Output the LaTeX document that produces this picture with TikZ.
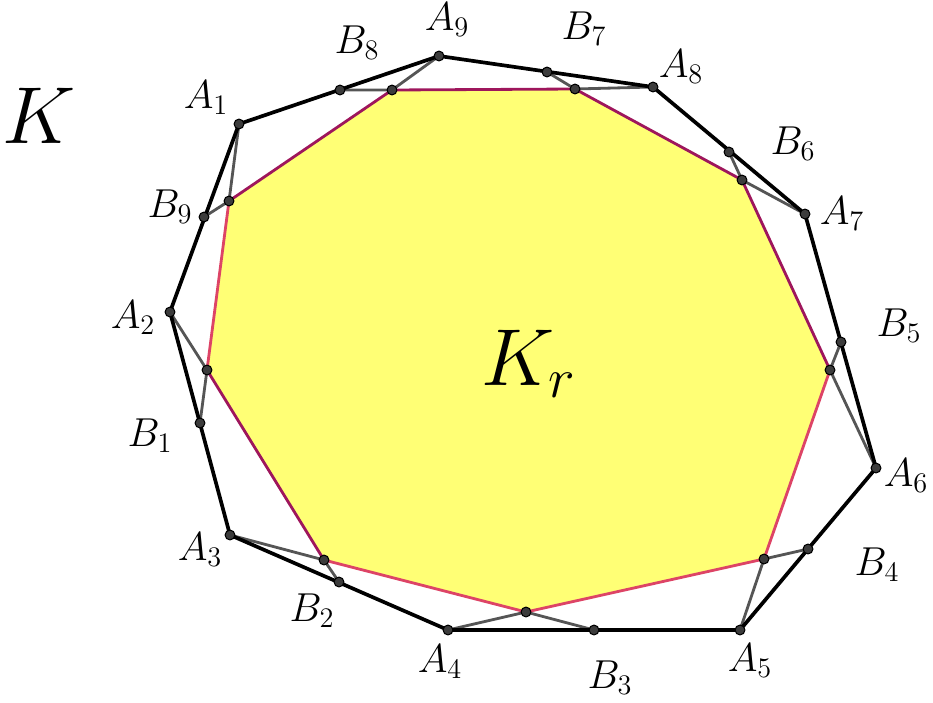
\RequirePackage{fix-cm}
\documentclass[tikz,border=0pt]{standalone}
\usepackage{amsmath}
\usetikzlibrary{positioning}
\definecolor{fillyellow}{RGB}{255,255,117}
\definecolor{edgemagenta}{RGB}{158,22,92}
\definecolor{edgepink}{RGB}{221,68,102}
\definecolor{dotgray}{RGB}{60,60,60}
\definecolor{cevgray}{RGB}{85,85,85}

\begin{document}
\begin{tikzpicture}[
  x=0.02cm, y=-0.02cm,
  outer/.style={draw=black,line width=2.1pt,line join=round},
  cev/.style={draw=cevgray,line width=1.6pt},
  magedge/.style={draw=edgemagenta,line width=1.6pt},
  pinkedge/.style={draw=edgepink,line width=1.6pt},
  dot/.style={circle,fill=dotgray,draw=black,line width=0.6pt,
              inner sep=0pt,minimum size=5.6pt},
  lbl/.style={font=\fontsize{23}{27}\selectfont,inner sep=0pt},
  big/.style={font=\fontsize{46}{55}\selectfont,inner sep=0pt}
]
\useasboundingbox (0,0) rectangle (933,703);

%% -- outer vertices A_i
\coordinate (A1) at (239,124);
\coordinate (A2) at (170,312);
\coordinate (A3) at (230,535);
\coordinate (A4) at (448,630);
\coordinate (A5) at (740,630);
\coordinate (A6) at (876,468);
\coordinate (A7) at (805,214);
\coordinate (A8) at (653,87);
\coordinate (A9) at (439,56);

%% -- points B_i on the sides
\coordinate (B1) at (200,423);
\coordinate (B2) at (339,582);
\coordinate (B3) at (594,630);
\coordinate (B4) at (808,549);
\coordinate (B5) at (841,342);
\coordinate (B6) at (729,152);
\coordinate (B7) at (547,72);
\coordinate (B8) at (340,90);
\coordinate (B9) at (204,217);

%% -- vertices of K_r
\coordinate (P1) at (229,201);
\coordinate (P2) at (207,370);
\coordinate (P3) at (324,560);
\coordinate (P4) at (526,612);
\coordinate (P5) at (764,559);
\coordinate (P6) at (830,370);
\coordinate (P7) at (742,180);
\coordinate (P8) at (575,89);
\coordinate (P9) at (392,90);

%% -- K_r filled
\fill[fillyellow] (P1) -- (P2) -- (P3) -- (P4) -- (P5) -- (P6)
  -- (P7) -- (P8) -- (P9) -- cycle;

%% -- segments A_i P_i and B_{i-1} P_i
\draw[cev] (A1) -- (P1) -- (B9);
\draw[cev] (A2) -- (P2) -- (B1);
\draw[cev] (A3) -- (P3) -- (B2);
\draw[cev] (A4) -- (P4) -- (B3);
\draw[cev] (A5) -- (P5) -- (B4);
\draw[cev] (A6) -- (P6) -- (B5);
\draw[cev] (A7) -- (P7) -- (B6);
\draw[cev] (A8) -- (P8) -- (B7);
\draw[cev] (A9) -- (P9) -- (B8);

%% -- edges of K_r
\draw[magedge] (P2) -- (P3);
\draw[magedge] (P6) -- (P7) -- (P8) -- (P9) -- (P1);
\draw[pinkedge] (P1) -- (P2);
\draw[pinkedge] (P3) -- (P4) -- (P5) -- (P6);

%% -- the nonagon K
\draw[outer] (A1) -- (A2) -- (A3) -- (A4) -- (A5) -- (A6)
  -- (A7) -- (A8) -- (A9) -- cycle;

%% -- points
\foreach \p in {A1,A2,A3,A4,A5,A6,A7,A8,A9,
                B1,B2,B3,B4,B5,B6,B7,B8,B9,
                P1,P2,P3,P4,P5,P6,P7,P8,P9}
  \node[dot] (d\p) at (\p) {};

%% -- labels
\node[lbl] (lA1) at (206,98)  {$A_1$};
\node[lbl] (lA2) at (133,318) {$A_2$};
\node[lbl] (lA3) at (200,550) {$A_3$};
\node[lbl] (lA4) at (440,662) {$A_4$};
\node[lbl] (lA5) at (750,661) {$A_5$};
\node[lbl] (lA6) at (906,476) {$A_6$};
\node[lbl] (lA7) at (842,214) {$A_7$};
\node[lbl] (lA8) at (681,67)  {$A_8$};
\node[lbl] (lA9) at (447,20)  {$A_9$};
\node[lbl] (lB1) at (150,436) {$B_1$};
\node[lbl] (lB2) at (312,611) {$B_2$};
\node[lbl] (lB3) at (610,678) {$B_3$};
\node[lbl] (lB4) at (877,565) {$B_4$};
\node[lbl] (lB5) at (899,326) {$B_5$};
\node[lbl] (lB6) at (793,144) {$B_6$};
\node[lbl] (lB7) at (584,29)  {$B_7$};
\node[lbl] (lB8) at (357,43)  {$B_8$};
\node[lbl] (lB9) at (170,207) {$B_9$};

\node[big] (lK)  at (39,116)  {$K$};
\node[big] (lKr) at (529,364) {$K_r$};

\end{tikzpicture}
\end{document}
